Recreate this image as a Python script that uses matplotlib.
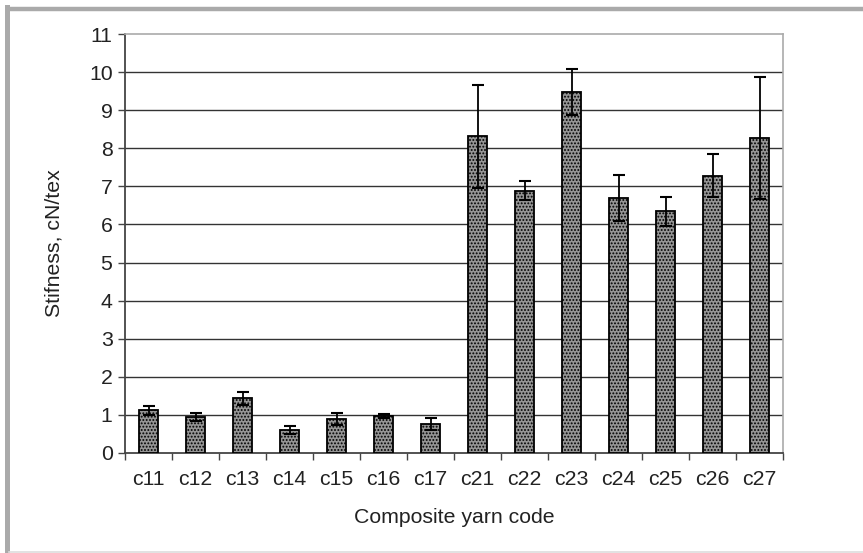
import matplotlib
matplotlib.use("Agg")
import matplotlib.pyplot as plt
from matplotlib.lines import Line2D
import numpy as np

categories = ["c11", "c12", "c13", "c14", "c15", "c16", "c17",
              "c21", "c22", "c23", "c24", "c25", "c26", "c27"]
values = [1.12, 0.94, 1.44, 0.60, 0.90, 0.98, 0.77,
          8.31, 6.88, 9.47, 6.70, 6.35, 7.28, 8.26]
errors = [0.11, 0.10, 0.17, 0.11, 0.16, 0.05, 0.16,
          1.34, 0.25, 0.60, 0.60, 0.38, 0.56, 1.60]
yticks = list(range(0, 12))

plt.rcParams['font.family'] = ['Liberation Sans', 'DejaVu Sans']
plt.rcParams['hatch.color'] = '#333333'
plt.rcParams['hatch.linewidth'] = 0.9

W, H = 863, 553
FS = 15.3
fig = plt.figure(figsize=(W / 100, H / 100), dpi=100)
ax = fig.add_axes([125 / W, 1 - 453 / H, (783 - 125) / W, (453 - 34) / H])

x = np.arange(len(categories))
ax.bar(x, values, width=0.41, color='#959595', edgecolor='black',
       linewidth=1.3, hatch='.....', zorder=3)
ax.errorbar(x, values, yerr=errors, fmt='none', ecolor='black',
            elinewidth=1.3, capsize=4, capthick=1.5, zorder=4)

ax.set_xlim(-0.5, len(categories) - 0.5)
ax.set_ylim(0, 11)
ax.set_yticks(yticks)
ax.set_yticklabels([str(t) for t in yticks], fontsize=FS, color='#222222')
ax.set_xticks(x)
ax.set_xticklabels(categories, fontsize=FS, color='#222222')
ax.set_xticks(np.arange(-0.5, len(categories), 1.0), minor=True)
ax.tick_params(axis='x', which='major', length=0, pad=12)
ax.tick_params(axis='x', which='minor', length=5, width=1, color='#444444', direction='out')
ax.tick_params(axis='y', which='major', length=5, width=1, color='#444444', pad=4)

for t in range(1, 11):
    ax.axhline(t, color='#333333', linewidth=1.0, zorder=1)

for side in ['top', 'right']:
    ax.spines[side].set_color('#aaaaaa')
    ax.spines[side].set_linewidth(1.2)
for side in ['left', 'bottom']:
    ax.spines[side].set_color('#444444')
    ax.spines[side].set_linewidth(1.3)

ax.set_xlabel("Composite yarn code", fontsize=FS, color='#222222', labelpad=14)
ax.set_ylabel("Stifness, cN/tex", fontsize=FS, color='#222222', labelpad=18)

# outer frame
fig.add_artist(Line2D([9 / W, 1], [1 - 8.5 / H, 1 - 8.5 / H], transform=fig.transFigure,
                      color='#aaaaaa', linewidth=3.2))
fig.add_artist(Line2D([6.5 / W, 6.5 / W], [0, 1 - 7 / H], transform=fig.transFigure,
                      color='#aaaaaa', linewidth=3.6))
fig.add_artist(Line2D([9 / W, 1], [1.5 / H, 1.5 / H], transform=fig.transFigure,
                      color='#dddddd', linewidth=1.2))

fig.savefig("out.png", dpi=100)
